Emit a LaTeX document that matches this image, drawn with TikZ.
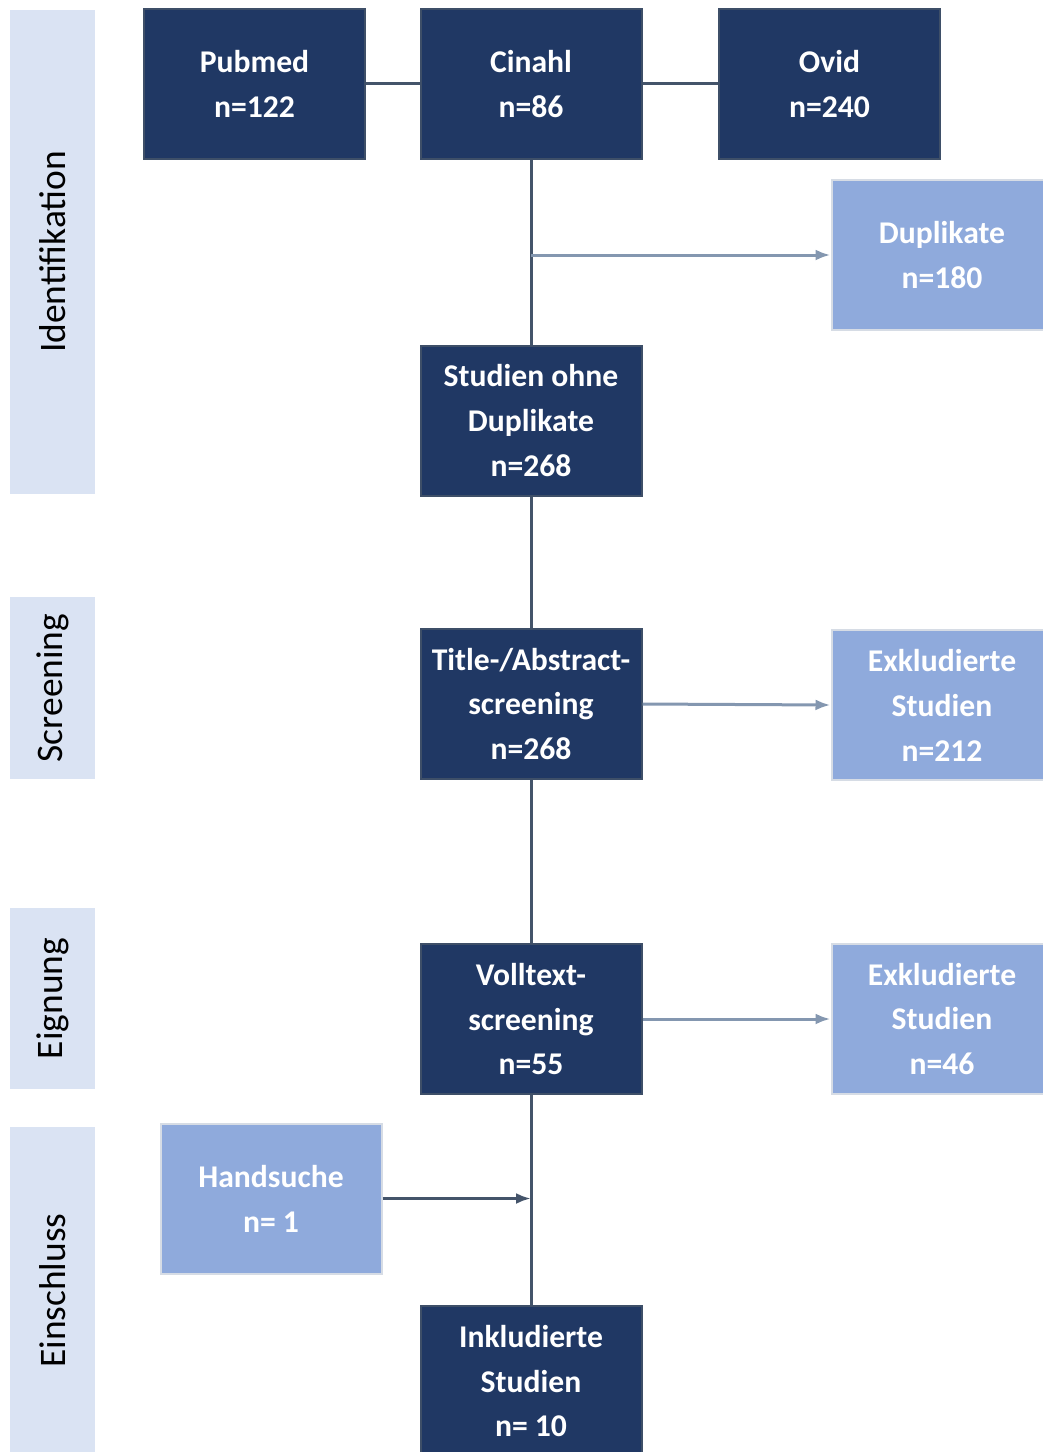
\documentclass[tikz,border=0pt]{standalone}
\usepackage{fontspec}
\setmainfont{Carlito}
\usetikzlibrary{arrows.meta,positioning}

\definecolor{navy}{HTML}{203864}
\definecolor{navyline}{HTML}{3E4F68}
\definecolor{softblue}{HTML}{8FAADC}
\definecolor{softline}{HTML}{D6DCE5}
\definecolor{phasebg}{HTML}{DAE3F3}
\definecolor{linkdark}{HTML}{44546A}
\definecolor{linklight}{HTML}{8497B0}

\newcommand{\boxfont}{\fontsize{18}{25.6}\selectfont\bfseries}
\newcommand{\phasefont}{\fontsize{21.3}{24}\selectfont}

\tikzset{
  darkbox/.style={draw=navyline, fill=navy, line width=0.04cm, text=white,
    minimum width=4.42cm, minimum height=3cm, inner sep=0pt, align=center, font=\boxfont},
  lightbox/.style={darkbox, draw=softline, fill=softblue},
  phase/.style={fill=phasebg, rotate=90, minimum height=1.7cm, inner sep=0pt, font=\phasefont},
  link/.style={draw=linkdark, line width=0.06cm},
  outarrow/.style={draw=linklight, line width=0.06cm, -{Latex[length=0.3cm,width=0.22cm]}},
  inarrow/.style={link, -{Latex[length=0.3cm,width=0.22cm]}}
}

\begin{document}
\begin{tikzpicture}
  \useasboundingbox (0,0) rectangle (20.84,-29.04);

  % phases on the left
  \node[phase, minimum width=9.68cm] (identifikation) at (1.05,-5.04) {Identifikation};
  \node[phase, minimum width=3.64cm] (screening) at (1.05,-13.76) {Screening};
  \node[phase, minimum width=3.62cm] (eignung) at (1.05,-19.97) {Eignung};
  \node[phase, minimum width=6.54cm] (einschluss) at (1.05,-25.81) {Einschluss};

  % databases
  \node[darkbox] (pubmed) at (5.09,-1.68) {Pubmed\\n=122};
  \node[darkbox] (cinahl) at (10.62,-1.68) {Cinahl\\n=86};
  \node[darkbox] (ovid) at (16.59,-1.68) {Ovid\\n=240};

  % main column
  \node[darkbox] (ohnedup) at (10.62,-8.41) {Studien ohne\\Duplikate\\n=268};
  \node[darkbox] (abstract) at (10.62,-14.08) {Title-/Abstract-\\screening\\n=268};
  \node[darkbox] (volltext) at (10.62,-20.38) {Volltext-\\screening\\n=55};
  \node[darkbox] (inkl) at (10.62,-27.62) {Inkludierte\\Studien\\n= 10};

  % side boxes
  \node[lightbox] (duplikate) at (18.84,-5.1) {Duplikate\\n=180};
  \node[lightbox] (exkla) at (18.84,-14.1) {Exkludierte\\Studien\\n=212};
  \node[lightbox] (exklb) at (18.84,-20.38) {Exkludierte\\Studien\\n=46};
  \node[lightbox] (hand) at (5.42,-23.97) {Handsuche\\n= 1};

  \draw[link] (pubmed) -- (cinahl);
  \draw[link] (cinahl) -- (ovid);
  \draw[link] (cinahl) -- (ohnedup);
  \draw[link] (ohnedup) -- (abstract);
  \draw[link] (abstract) -- (volltext);
  \draw[link] (volltext) -- (inkl);

  \coordinate (dupsplit) at (cinahl.south |- duplikate.west);
  \coordinate (handjoin) at (volltext.south |- hand.east);

  \draw[outarrow] (dupsplit) -- (duplikate.west);
  \draw[outarrow] (abstract.east) -- (exkla.west);
  \draw[outarrow] (volltext.east) -- (exklb.west);
  \draw[inarrow] (hand.east) -- (handjoin);

\end{tikzpicture}
\end{document}
